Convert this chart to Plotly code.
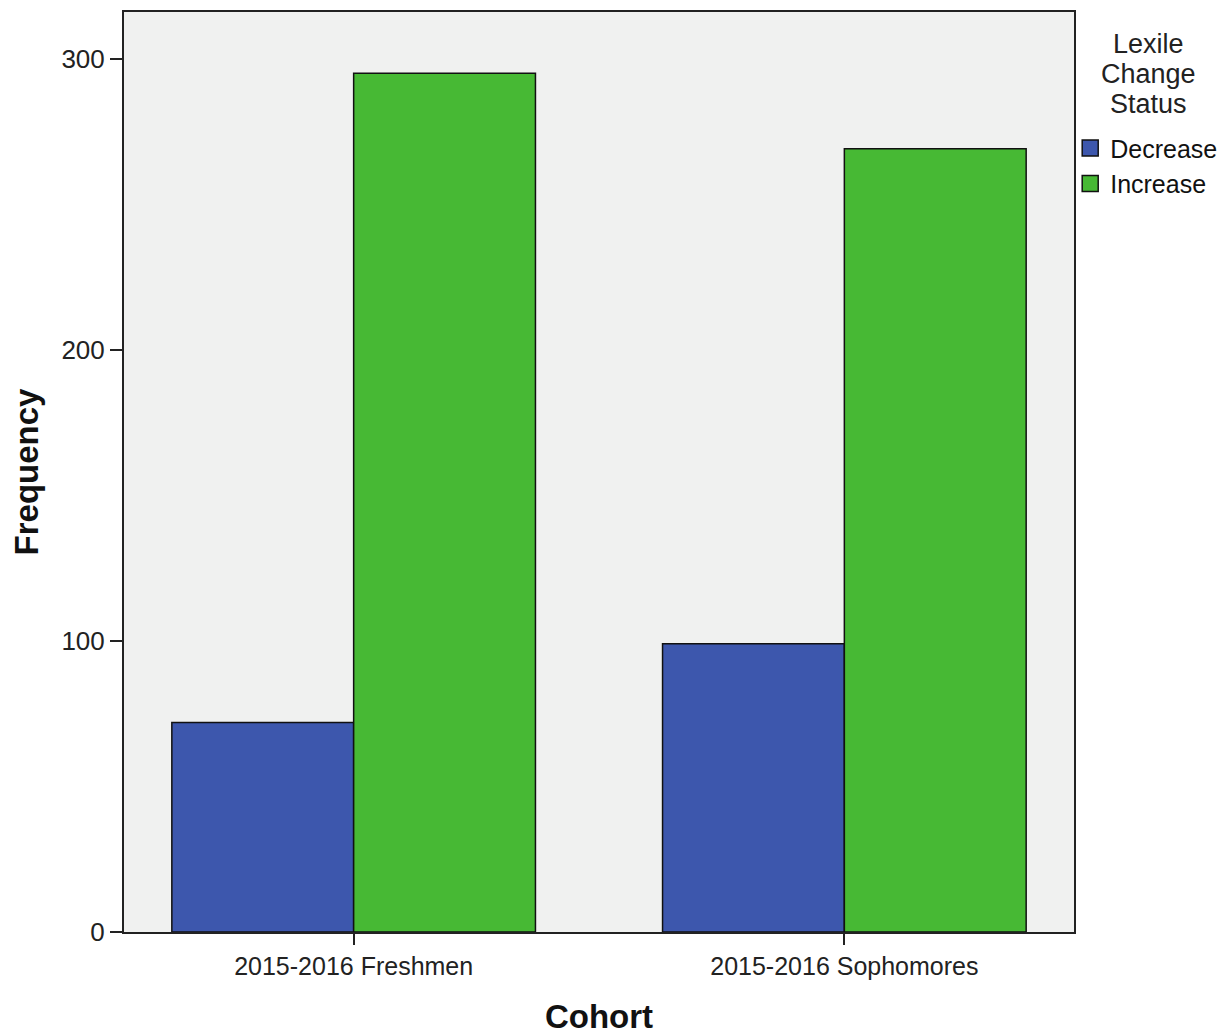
import plotly.graph_objects as go

categories = ["2015-2016 Freshmen", "2015-2016 Sophomores"]
decrease = [72, 99]
increase = [295, 269]
series_names = ["Decrease", "Increase"]
colors = ["#3d57ad", "#47b934"]
legend_title_lines = ["Lexile", "Change", "Status"]

font_family = "Liberation Sans, Arial, sans-serif"

fig = go.Figure()
for name, vals, col in zip(series_names, [decrease, increase], colors):
    fig.add_trace(go.Bar(
        x=categories, y=vals, name=name, showlegend=False,
        marker=dict(color=col, line=dict(color="#111111", width=1.5)),
    ))
# legend entries with larger square swatches
for name, col in zip(series_names, colors):
    fig.add_trace(go.Scatter(
        x=[None], y=[None], name=name, mode="markers",
        marker=dict(symbol="square", size=22, color=col,
                    line=dict(color="#111111", width=1.5)),
    ))

# body margin of 8px in the page: compensate
fig.update_layout(
    width=1221, height=1027,
    margin=dict(l=116, r=155, t=2, b=103),
    barmode="group", bargap=0.259, bargroupgap=0,
    plot_bgcolor="#f0f1f0", paper_bgcolor="white",
    font=dict(family=font_family, size=22, color="#222222"),
    xaxis=dict(
        range=[-0.468, 1.468], showline=True, linecolor="#222222", linewidth=2,
        mirror=True, ticks="outside", ticklen=11, tickwidth=2, tickcolor="#222222",
        showgrid=False, tickfont=dict(size=25),
        title=dict(text="<b>Cohort</b>", font=dict(size=33, color="#111111"), standoff=30),
    ),
    yaxis=dict(
        range=[0, 316], tickvals=[0, 100, 200, 300], showline=True,
        linecolor="#222222", linewidth=2, mirror=True, ticks="outside",
        ticklen=12, tickwidth=2, tickcolor="#222222", showgrid=False, zeroline=False,
        tickfont=dict(size=26),
        title=dict(text="<b>Frequency</b>", font=dict(size=33, color="#111111"), standoff=28),
    ),
    legend=dict(
        x=0.996, y=0.877, xanchor="left", yanchor="top",
        font=dict(size=25, color="#111111"),
        itemwidth=30, tracegroupgap=0, bgcolor="rgba(0,0,0,0)",
    ),
    showlegend=True,
)

for i, line in enumerate(legend_title_lines):
    fig.add_annotation(
        text=line, xref="paper", yref="paper",
        x=1.0785, y=(932 - 8 - (34 + 30 * i)) / 922,
        xanchor="center", yanchor="middle", showarrow=False,
        font=dict(size=27, color="#222222", family=font_family),
    )

fig.write_html("out.html")
